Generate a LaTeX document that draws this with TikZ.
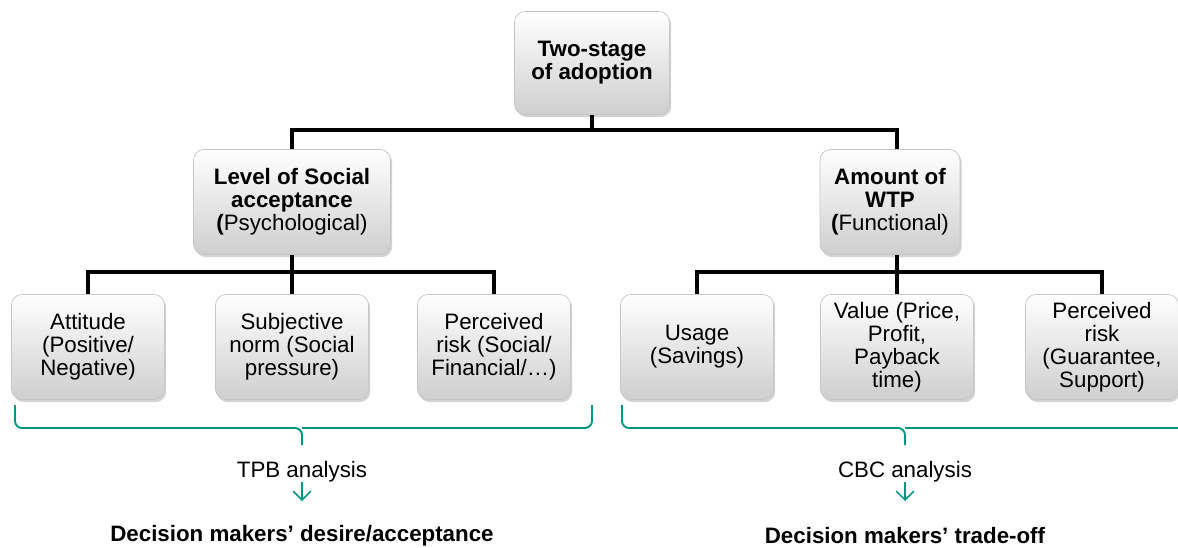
\documentclass[tikz,border=0pt]{standalone}
\usepackage{fontspec}
\setmainfont{Liberation Sans}
\usetikzlibrary{shadows,arrows.meta}
\definecolor{bracegreen}{RGB}{0,150,130}
\tikzset{
    box/.style={draw=gray!45, rounded corners=6pt, top color=white, bottom color=gray!38,
        drop shadow={shadow xshift=1pt, shadow yshift=-1.5pt, opacity=0.35},
        align=center, inner sep=2pt, font=\fontsize{12.7}{13}\selectfont},
    link/.style={line width=2.2pt},
    bracket/.style={draw=bracegreen, line width=1.1pt, rounded corners=4pt},
}
\begin{document}
\begin{tikzpicture}[x=0.02cm, y=-0.02cm]
        \useasboundingbox (0,0) rectangle (1178,548);
        \begin{scope}[every node/.style={box}]
            \node[minimum width=3.1cm, minimum height=2.06cm] (top) at (592, 63) {\bfseries Two-stage\\\bfseries of adoption};
            \node[minimum width=3.94cm, minimum height=2.1cm] (soc) at (292, 202) {\bfseries Level of Social\\\bfseries acceptance\\\textbf{(}Psychological)};
            \node[minimum width=2.8cm, minimum height=2.1cm] (wtp) at (890, 202) {\bfseries Amount of\\\bfseries WTP\\\textbf{(}Functional)};
        \end{scope}
        \begin{scope}[every node/.style={box, minimum width=3.06cm, minimum height=2.1cm}]
            \node (att) at (88, 347) {Attitude\\(Positive/\\Negative)};
            \node (sub) at (292, 347) {Subjective\\norm (Social\\pressure)};
            \node (prs) at (494, 347) {Perceived\\risk (Social/\\Financial/…)};
            \node (use) at (697, 347) {Usage\\(Savings)};
            \node (val) at (897, 347) {Value (Price,\\Profit,\\Payback\\time)};
            \node (prw) at (1102, 347) {Perceived\\risk\\(Guarantee,\\Support)};
        \end{scope}
        % tree
        \draw[link] (top.south) -- ++(0,15) -| (soc.north);
        \draw[link] (top.south) ++(0,15) -| (wtp.north -| val.north);
        \draw[link] (soc.south) -- ++(0,17) -| (att.north);
        \draw[link] (soc.south) -- (sub.north);
        \draw[link] (soc.south) ++(0,17) -| (prs.north);
        \draw[link] (wtp.south -| val.north) -- ++(0,17) -| (use.north);
        \draw[link] (wtp.south -| val.north) -- (val.north);
        \draw[link] (wtp.south -| val.north) ++(0,17) -| (prw.north);
        % braces
        \coordinate (lb) at (302, 428);
        \coordinate (rb) at (905, 428);
        \draw[bracket] (15, 405) |- (lb) -- ++(0,17);
        \draw[bracket] (592, 405) |- (lb);
        \draw[bracket] (622, 405) |- (rb) -- ++(0,17);
        \draw[bracket] (1180, 428) -- (rb);
        % analyses
        \begin{scope}[every node/.style={font=\fontsize{12.7}{13}\selectfont}]
            \node (tpb) at (302, 472) {TPB analysis};
            \node (cbc) at (905, 472) {CBC analysis};
            \node[font=\bfseries\fontsize{12.7}{13}\selectfont] (acc) at (302, 536) {Decision makers’ desire/acceptance};
            \node[font=\bfseries\fontsize{12.7}{13}\selectfont] (trd) at (905, 536) {Decision makers’ trade-off};
        \end{scope}
        \draw[draw=bracegreen, line width=0.9pt, -{Straight Barb[length=5pt, width=10pt]}] (302, 482) -- (302, 501);
        \draw[draw=bracegreen, line width=0.9pt, -{Straight Barb[length=5pt, width=10pt]}] (905, 482) -- (905, 501);
    \end{tikzpicture}
\end{document}
